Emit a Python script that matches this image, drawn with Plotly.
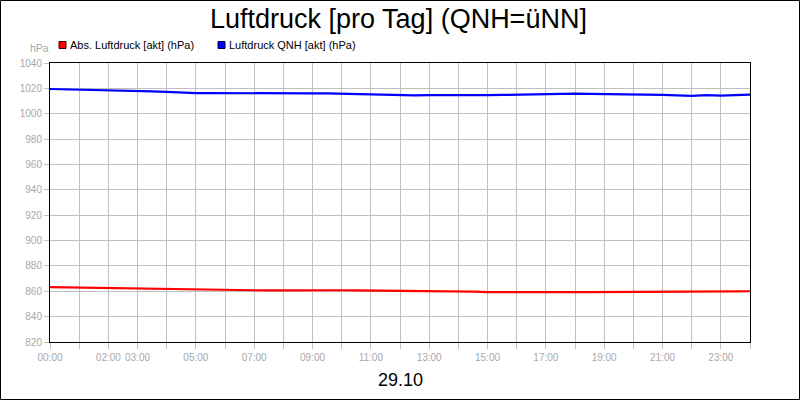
import plotly.graph_objects as go

# Stunden des Tages (29.10), halbstuendlich
stunden = [i * 0.5 for i in range(49)]

abs_luftdruck = [
    863.2, 863.0, 862.8, 862.6, 862.4, 862.2, 862.0, 861.8, 861.6, 861.3,
    861.1, 861.0, 861.0, 860.9, 860.8, 860.7, 860.8, 860.8, 860.8, 860.8,
    860.8, 860.7, 860.6, 860.5, 860.5, 860.4, 860.4, 860.3, 860.1, 859.7,
    859.4, 859.3, 859.3, 859.3, 859.4, 859.4, 859.3, 859.4, 859.4, 859.5,
    859.6, 859.7, 859.7, 859.6, 859.7, 859.8, 859.8, 859.9, 860.0,
]

qnh_luftdruck = [
    1019.5, 1019.3, 1019.1, 1018.9, 1018.6, 1018.3, 1018.0, 1017.6, 1017.3, 1016.6,
    1016.2, 1016.3, 1016.2, 1016.0, 1016.1, 1015.9, 1016.2, 1016.1, 1016.0, 1016.1,
    1015.8, 1015.3, 1014.9, 1014.6, 1014.5, 1014.4, 1014.6, 1014.5, 1014.4, 1014.3,
    1014.6, 1014.8, 1015.1, 1015.4, 1015.7, 1015.8, 1015.9, 1015.7, 1015.6, 1015.4,
    1015.3, 1015.2, 1014.9, 1014.4, 1014.1, 1014.6, 1014.3, 1014.6, 1015.0,
]

tick_stunden = list(range(25))
tick_texte = ["00:00", "", "02:00", "03:00", "", "05:00", "", "07:00", "", "09:00",
              "", "11:00", "", "13:00", "", "15:00", "", "17:00", "", "19:00",
              "", "21:00", "", "23:00", ""]

y_ticks = list(range(820, 1041, 20))

# Plotbereich in Pixel: x 50..750, y 63..342
L, R, T, B = 50, 750, 63, 342
W, H = 800, 400


def px(x):
    return (x - L) / (R - L)


def py(y):
    return (B - y) / (B - T)


grau = "#a8a8a8"

fig = go.Figure()
fig.add_trace(go.Scatter(x=stunden, y=abs_luftdruck, mode="lines",
                         line=dict(color="#ff0000", width=2.2), showlegend=False))
fig.add_trace(go.Scatter(x=stunden, y=qnh_luftdruck, mode="lines",
                         line=dict(color="#0000ff", width=2.2), showlegend=False))

shapes = [
    # Rahmen ums ganze Bild
    dict(type="rect", xref="paper", yref="paper",
         x0=px(0.5), x1=px(W - 0.5), y0=py(H - 0.5), y1=py(0.5),
         line=dict(color="black", width=1), layer="below"),
    # Legendenkaestchen
    dict(type="rect", xref="paper", yref="paper",
         x0=px(59), x1=px(66), y0=py(48.5), y1=py(41.5),
         fillcolor="#ff0000", line=dict(color="#400000", width=1)),
    dict(type="rect", xref="paper", yref="paper",
         x0=px(218), x1=px(225), y0=py(48.5), y1=py(41.5),
         fillcolor="#0000ff", line=dict(color="#000040", width=1)),
]

annotations = [
    dict(text="Luftdruck [pro Tag] (QNH=üNN]", xref="paper", yref="paper",
         x=px(398.5), y=py(19), showarrow=False, xanchor="center", yanchor="middle",
         font=dict(size=27, color="black")),
    dict(text="Abs. Luftdruck [akt] (hPa)", xref="paper", yref="paper",
         x=px(68), y=py(45), showarrow=False, xanchor="left", yanchor="middle",
         font=dict(size=11, color="black")),
    dict(text="Luftdruck QNH [akt] (hPa)", xref="paper", yref="paper",
         x=px(227), y=py(45), showarrow=False, xanchor="left", yanchor="middle",
         font=dict(size=11, color="black")),
    dict(text="hPa", xref="paper", yref="paper",
         x=px(39.5), y=py(48), showarrow=False, xanchor="center", yanchor="middle",
         font=dict(size=10.5, color=grau)),
    dict(text="29.10", xref="paper", yref="paper",
         x=0.5, y=py(380), showarrow=False, xanchor="center", yanchor="middle",
         font=dict(size=18, color="black")),
]

fig.update_layout(
    width=W, height=H,
    margin=dict(l=L, r=W - R, t=T, b=H - B, autoexpand=False),
    paper_bgcolor="white", plot_bgcolor="white",
    font=dict(family="Liberation Sans, Arial, sans-serif"),
    shapes=shapes, annotations=annotations,
    showlegend=False,
)

fig.update_xaxes(
    range=[0, 24], tickmode="array", tickvals=tick_stunden, ticktext=tick_texte,
    tickangle=0, automargin=False,
    showgrid=True, gridcolor="#c0c0c0", gridwidth=1,
    showline=True, linecolor="black", linewidth=1, mirror=True,
    ticks="outside", ticklen=6, tickcolor="#c0c0c0",
    tickfont=dict(size=10, color=grau), zeroline=False,
)
fig.update_yaxes(
    range=[820, 1040], tickmode="array", tickvals=y_ticks, automargin=False,
    showgrid=True, gridcolor="#c0c0c0", gridwidth=1,
    showline=True, linecolor="black", linewidth=1, mirror=True,
    ticks="outside", ticklen=5, tickcolor="#c0c0c0",
    tickfont=dict(size=10, color=grau), zeroline=False,
)

# Seitenrand des Browsers weg, damit die 800x400 genau passen
fig.write_html("out.html", config={"displayModeBar": False},
               post_script="document.body.style.margin='0';")
